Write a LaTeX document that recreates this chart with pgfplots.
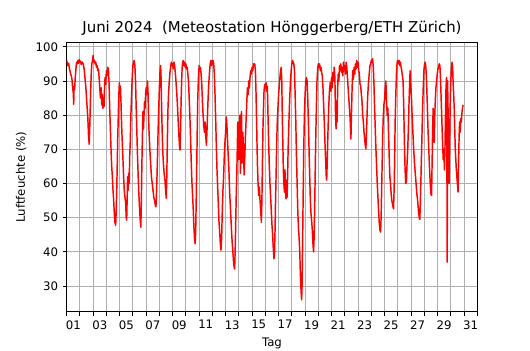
\documentclass[border=0pt]{standalone}
\usepackage{fontspec}
\setmainfont{DejaVu Sans}
\usepackage{pgfplots}
\pgfplotsset{compat=1.18}
\definecolor{gridgray}{RGB}{176,176,176}
\begin{document}
\begin{tikzpicture}
\begin{axis}[
  scale only axis, width=307.95pt, height=202.05pt,
  at={(0,0)}, anchor=south west,
  xmin=0, xmax=31, ymin=22.5, ymax=101.3,
  xtick={0.5,2.5,...,30.5},
  xticklabels={01,03,05,07,09,11,13,15,17,19,21,23,25,27,29,31},
  minor xtick={0,1,...,31},
  ytick={30,40,...,100},
  xtick pos=bottom, ytick pos=left,
  xminorgrids, ymajorgrids,
  minor grid style={gridgray, line width=0.66pt},
  major grid style={gridgray, line width=0.66pt},
  tick align=outside,
  major tick length=2.9pt, minor tick length=2.9pt,
  major x tick style={draw=none},
  tick style={black, line width=0.66pt},
  axis line style={line width=0.66pt},
  every tick label/.append style={font=\fontsize{8.8}{10}\selectfont},
  /pgf/number format/assume math mode=true,
  xlabel={Tag}, ylabel={Luftfeuchte (\%)},
  label style={font=\fontsize{8.8}{10}\selectfont},
  title={Juni 2024\ \ (Meteostation Hönggerberg/ETH Zürich)},
  title style={font=\fontsize{11.2}{13}\selectfont, at={(0.5,1)}, anchor=base, yshift=1.0pt},
]
\addplot[red, line width=1.1pt, line join=round] coordinates {
(0.00,96.0) (0.05,95.0) (0.10,94.5) (0.15,95.2) (0.20,93.8) (0.25,93.0) (0.30,92.0) (0.35,91.5) (0.40,90.5) (0.45,88.0)
(0.50,86.5) (0.53,83.2) (0.56,88.5) (0.60,87.5) (0.64,90.5) (0.68,92.5) (0.72,94.5) (0.76,95.5) (0.80,95.0) (0.85,96.0)
(0.90,95.2) (0.95,96.2) (1.00,95.5) (1.05,95.8) (1.10,94.8) (1.18,95.5) (1.25,95.0) (1.32,93.5) (1.38,91.0) (1.45,88.0)
(1.50,85.0) (1.55,82.0) (1.60,79.0) (1.65,74.0) (1.70,71.5) (1.74,76.0) (1.78,82.0) (1.82,88.0) (1.86,92.5) (1.90,95.0)
(1.95,96.0) (2.00,97.5) (2.05,95.5) (2.10,96.0) (2.15,95.0) (2.20,95.5) (2.25,94.0) (2.30,94.5) (2.35,93.0) (2.40,93.5)
(2.45,91.0) (2.50,88.0) (2.55,85.0) (2.60,88.0) (2.65,83.0) (2.70,86.0) (2.74,82.0) (2.78,84.5) (2.82,82.5) (2.86,88.0)
(2.90,91.0) (2.95,89.0) (3.00,93.0) (3.05,91.5) (3.10,94.0) (3.15,93.5) (3.20,89.5) (3.25,82.0) (3.30,76.0) (3.35,70.0)
(3.40,65.0) (3.45,62.0) (3.50,58.0) (3.55,55.0) (3.60,51.0) (3.65,48.5) (3.70,47.8) (3.74,52.0) (3.78,58.0) (3.82,66.0)
(3.86,74.0) (3.90,80.0) (3.94,86.0) (3.98,89.5) (4.02,86.5) (4.06,88.5) (4.10,84.0) (4.15,77.0) (4.20,72.0) (4.25,67.0)
(4.30,62.0) (4.35,58.0) (4.40,56.0) (4.45,54.5) (4.50,50.0) (4.53,49.3) (4.57,56.0) (4.60,62.0) (4.64,58.0) (4.68,63.0)
(4.72,60.0) (4.76,68.0) (4.80,72.0) (4.85,80.0) (4.90,86.0) (4.95,91.0) (5.00,94.5) (5.05,95.5) (5.10,96.0) (5.15,94.5)
(5.20,90.0) (5.25,82.0) (5.30,75.0) (5.35,68.0) (5.40,62.0) (5.45,57.0) (5.50,53.0) (5.55,49.5) (5.60,47.2) (5.64,55.0)
(5.68,66.0) (5.72,74.0) (5.76,81.0) (5.80,76.0) (5.84,80.0) (5.88,84.0) (5.92,82.0) (5.96,86.0) (6.00,88.0) (6.05,86.0)
(6.10,90.0) (6.14,87.0) (6.18,80.0) (6.22,75.0) (6.28,70.0) (6.34,66.0) (6.40,62.0) (6.46,60.0) (6.52,58.0) (6.58,56.0)
(6.64,55.0) (6.70,53.5) (6.74,53.2) (6.78,57.0) (6.82,62.0) (6.86,68.0) (6.90,75.0) (6.95,82.0) (7.00,88.0) (7.05,93.0)
(7.09,94.5) (7.12,92.0) (7.16,84.0) (7.20,77.0) (7.25,70.0) (7.30,66.0) (7.36,63.0) (7.42,61.0) (7.47,58.0) (7.52,55.7)
(7.56,62.0) (7.60,72.0) (7.65,82.0) (7.70,87.0) (7.75,90.0) (7.80,92.5) (7.85,94.0) (7.90,95.5) (7.95,94.5) (8.00,95.0)
(8.05,93.5) (8.10,95.5) (8.15,94.5) (8.20,92.5) (8.25,90.0) (8.32,86.0) (8.40,80.0) (8.46,75.0) (8.52,71.0) (8.56,69.8)
(8.60,76.0) (8.64,84.0) (8.68,90.0) (8.72,94.0) (8.76,95.5) (8.80,96.0) (8.85,94.5) (8.90,95.5) (8.95,94.0) (9.00,95.0)
(9.05,93.5) (9.10,94.0) (9.15,92.0) (9.20,90.0) (9.25,85.0) (9.30,80.0) (9.35,74.0) (9.40,67.0) (9.45,61.0) (9.50,57.0)
(9.55,53.0) (9.60,48.0) (9.65,44.0) (9.70,42.4) (9.74,46.0) (9.78,55.0) (9.82,65.0) (9.86,76.0) (9.90,85.0) (9.95,91.0)
(10.00,94.5) (10.05,93.5) (10.10,94.0) (10.15,92.0) (10.20,89.0) (10.25,84.0) (10.30,80.0) (10.35,77.0) (10.40,75.0) (10.45,78.0)
(10.50,74.0) (10.55,71.2) (10.60,76.0) (10.65,82.0) (10.70,87.0) (10.75,90.5) (10.80,93.5) (10.85,95.5) (10.90,96.0) (10.95,94.5)
(11.00,95.5) (11.05,96.0) (11.10,95.0) (11.15,92.0) (11.20,86.0) (11.25,79.0) (11.30,71.0) (11.35,64.0) (11.40,59.0) (11.45,54.0)
(11.50,49.0) (11.55,46.0) (11.60,42.5) (11.65,40.5) (11.70,44.0) (11.75,52.0) (11.80,58.0) (11.85,62.0) (11.90,68.0) (11.95,72.0)
(12.00,75.0) (12.05,79.5) (12.10,77.0) (12.15,72.0) (12.20,68.0) (12.25,64.0) (12.30,58.0) (12.35,54.0) (12.40,50.0) (12.45,46.0)
(12.50,42.5) (12.55,40.0) (12.60,37.0) (12.65,35.5) (12.68,35.0) (12.72,40.0) (12.76,48.0) (12.80,56.0) (12.84,62.0) (12.88,70.0)
(12.92,78.0) (12.96,70.0) (13.00,67.0) (13.04,75.0) (13.08,80.0) (13.12,63.0) (13.16,73.0) (13.20,81.0) (13.25,66.0) (13.30,75.0)
(13.35,70.0) (13.40,62.5) (13.45,68.0) (13.50,74.0) (13.55,79.0) (13.60,84.0) (13.65,88.0) (13.70,86.0) (13.75,90.0) (13.80,88.0)
(13.85,91.5) (13.90,93.0) (13.95,92.0) (14.00,94.0) (14.05,93.0) (14.10,95.0) (14.15,94.5) (14.20,95.0) (14.25,93.0) (14.30,86.0)
(14.35,76.0) (14.40,66.0) (14.45,60.0) (14.50,56.5) (14.55,59.0) (14.60,55.0) (14.65,52.0) (14.70,48.7) (14.74,55.0) (14.78,66.0)
(14.82,76.0) (14.86,82.0) (14.90,87.0) (14.95,89.0) (15.00,88.0) (15.05,89.5) (15.10,87.0) (15.15,88.5) (15.20,80.0) (15.25,72.0)
(15.30,65.0) (15.35,60.0) (15.40,56.0) (15.45,52.0) (15.50,48.0) (15.55,45.0) (15.60,41.0) (15.65,38.0) (15.69,39.5) (15.73,46.0)
(15.77,55.0) (15.82,64.0) (15.86,72.0) (15.90,78.0) (15.95,82.0) (16.00,86.0) (16.05,88.5) (16.10,91.0) (16.15,93.0) (16.20,94.0)
(16.24,90.0) (16.28,80.0) (16.32,72.0) (16.36,64.0) (16.40,60.0) (16.44,57.5) (16.48,64.0) (16.52,58.0) (16.56,55.5) (16.60,61.0)
(16.64,56.0) (16.68,62.0) (16.72,70.0) (16.78,78.0) (16.84,85.0) (16.90,90.0) (16.95,93.0) (17.00,95.0) (17.05,96.0) (17.10,95.5)
(17.15,95.0) (17.20,93.0) (17.25,86.0) (17.30,78.0) (17.35,68.0) (17.40,60.0) (17.45,52.0) (17.50,47.0) (17.55,44.0) (17.60,40.0)
(17.64,34.0) (17.68,30.0) (17.72,27.0) (17.74,26.0) (17.77,30.0) (17.80,38.0) (17.85,55.0) (17.90,70.0) (17.95,80.0) (18.00,86.0)
(18.05,90.0) (18.10,91.0) (18.15,90.0) (18.20,85.0) (18.25,78.0) (18.30,70.0) (18.35,62.0) (18.40,55.0) (18.45,51.0) (18.50,49.0)
(18.55,46.0) (18.60,42.0) (18.64,40.0) (18.68,44.0) (18.72,52.0) (18.76,62.0) (18.80,72.0) (18.85,82.0) (18.90,90.0) (18.95,93.5)
(19.00,95.0) (19.05,94.0) (19.10,95.0) (19.15,93.0) (19.20,94.0) (19.25,92.5) (19.30,91.5) (19.35,88.0) (19.40,83.0) (19.45,78.0)
(19.50,72.0) (19.55,67.0) (19.60,62.0) (19.63,61.0) (19.67,66.0) (19.72,74.0) (19.78,82.0) (19.84,87.0) (19.90,89.5) (19.95,87.0)
(20.00,91.0) (20.05,88.0) (20.10,92.5) (20.15,90.0) (20.20,94.0) (20.25,91.0) (20.30,80.0) (20.34,76.0) (20.38,84.0) (20.42,78.0)
(20.46,88.0) (20.50,92.0) (20.55,90.0) (20.60,94.5) (20.65,93.0) (20.70,95.0) (20.75,92.5) (20.80,94.0) (20.85,91.5) (20.90,95.5)
(20.95,93.0) (21.00,94.5) (21.05,92.0) (21.10,95.5) (21.15,94.0) (21.20,91.0) (21.25,88.0) (21.30,85.0) (21.35,82.0) (21.40,79.0)
(21.46,73.0) (21.50,80.0) (21.55,88.0) (21.60,93.0) (21.65,90.5) (21.70,94.0) (21.75,92.0) (21.80,95.0) (21.85,93.5) (21.90,96.0)
(21.95,94.0) (22.00,95.5) (22.05,93.0) (22.10,92.0) (22.15,89.0) (22.20,88.5) (22.25,86.0) (22.30,84.0) (22.35,80.0) (22.40,78.0)
(22.45,75.0) (22.50,73.0) (22.55,71.0) (22.59,70.2) (22.63,74.0) (22.68,80.0) (22.72,85.0) (22.78,89.0) (22.84,92.0) (22.90,94.5)
(22.95,95.0) (23.00,96.0) (23.05,95.5) (23.10,96.5) (23.15,94.0) (23.20,89.0) (23.25,82.0) (23.30,76.0) (23.35,70.0) (23.40,65.0)
(23.45,60.0) (23.50,56.0) (23.55,52.0) (23.60,48.5) (23.65,46.5) (23.70,45.8) (23.74,50.0) (23.78,58.0) (23.82,66.0) (23.86,74.0)
(23.90,79.0) (23.95,83.0) (24.00,84.5) (24.05,88.0) (24.10,90.0) (24.15,84.0) (24.20,80.0) (24.25,82.0) (24.30,75.0) (24.35,68.0)
(24.40,62.0) (24.45,60.0) (24.50,57.0) (24.55,55.0) (24.60,54.0) (24.65,53.0) (24.68,52.6) (24.72,58.0) (24.76,66.0) (24.80,78.0)
(24.85,86.0) (24.90,92.0) (24.95,95.5) (25.00,96.0) (25.05,95.0) (25.10,96.0) (25.15,94.5) (25.20,95.5) (25.25,94.0) (25.30,93.0)
(25.35,91.5) (25.40,90.0) (25.45,82.0) (25.50,72.0) (25.55,64.0) (25.60,60.0) (25.65,60.5) (25.70,66.0) (25.75,70.0) (25.80,76.0)
(25.85,84.0) (25.90,90.0) (25.93,93.0) (25.97,90.0) (26.02,86.0) (26.08,80.0) (26.14,75.0) (26.20,70.0) (26.26,66.0) (26.32,63.0)
(26.38,60.0) (26.44,57.0) (26.50,55.0) (26.56,52.0) (26.62,50.0) (26.66,49.5) (26.70,54.0) (26.75,62.0) (26.80,70.0) (26.86,80.0)
(26.92,88.0) (26.97,93.0) (27.02,95.0) (27.07,95.5) (27.12,94.0) (27.17,90.0) (27.22,84.0) (27.28,76.0) (27.34,70.0) (27.40,64.0)
(27.45,60.0) (27.50,57.0) (27.55,56.5) (27.59,66.0) (27.63,76.0) (27.67,82.0) (27.71,77.0) (27.75,72.0) (27.79,80.0) (27.83,84.0)
(27.88,88.0) (27.93,90.0) (27.98,92.0) (28.03,93.5) (28.08,94.0) (28.13,95.0) (28.18,94.5) (28.23,90.0) (28.28,84.0) (28.33,78.0)
(28.38,72.0) (28.43,67.0) (28.48,70.0) (28.52,64.0) (28.56,70.0) (28.60,80.0) (28.64,88.0) (28.68,91.0) (28.70,80.0) (28.72,50.0)
(28.73,37.0) (28.74,55.0) (28.76,90.0) (28.80,80.0) (28.84,68.0) (28.87,60.0) (28.91,70.0) (28.95,82.0) (29.00,90.0) (29.05,94.0)
(29.10,95.5) (29.14,94.0) (29.18,89.0) (29.22,86.0) (29.26,82.0) (29.30,76.0) (29.34,70.0) (29.38,67.0) (29.42,64.0) (29.46,62.0)
(29.50,60.0) (29.55,57.5) (29.59,66.0) (29.63,74.0) (29.67,78.0) (29.71,75.0) (29.75,79.0) (29.80,78.0) (29.85,81.0) (29.90,82.5)
(29.93,83.0)
};
\end{axis}
\pgfresetboundingbox
\path[use as bounding box] (-50.0pt,-28.7pt) rectangle (347.5pt,233.8pt);
\end{tikzpicture}
\end{document}
